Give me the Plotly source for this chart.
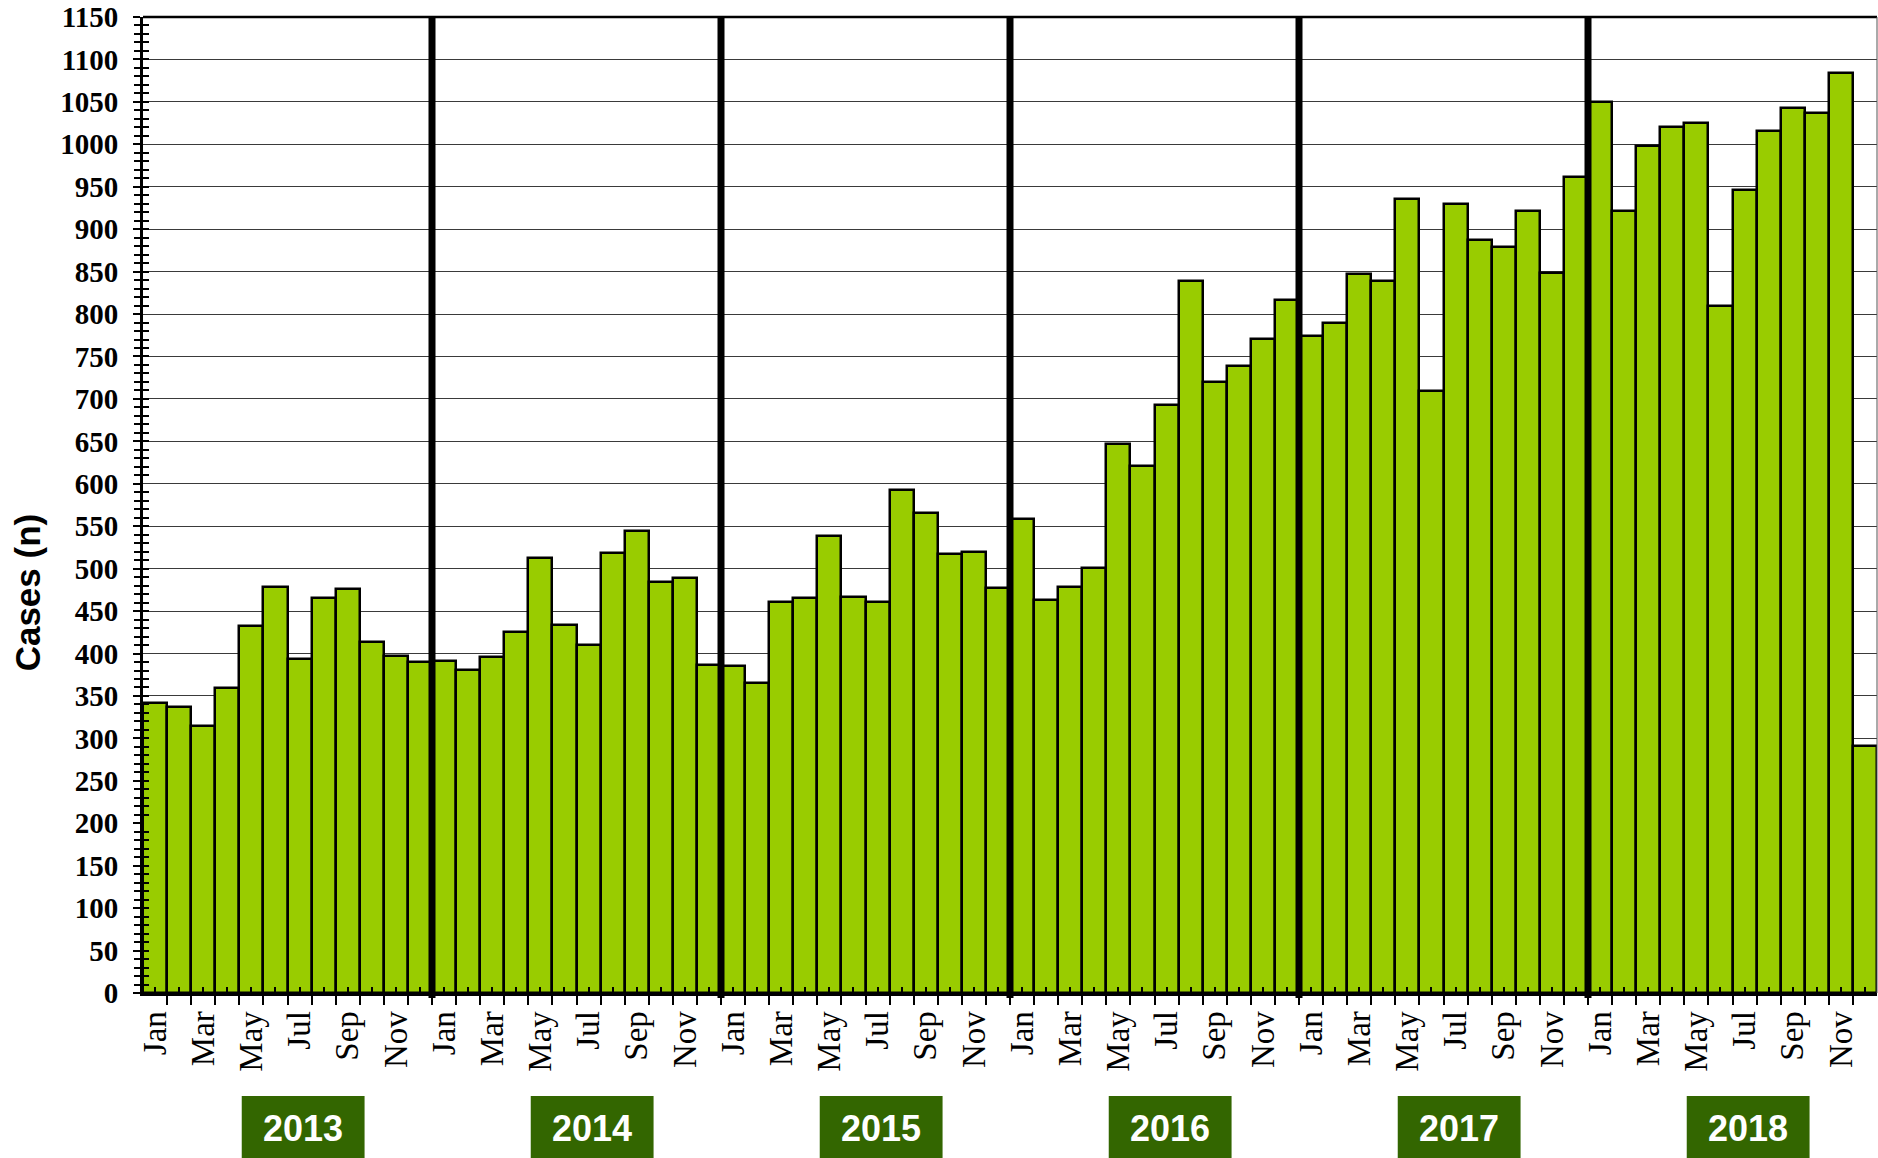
import plotly.graph_objects as go

# ---------------- data ----------------
month_names = ["Jan", "Feb", "Mar", "Apr", "May", "Jun",
               "Jul", "Aug", "Sep", "Oct", "Nov", "Dec"]
year_labels = ["2013", "2014", "2015", "2016", "2017", "2018"]

cases_2013 = [342, 337, 315, 359, 433, 478, 393, 466, 476, 413, 397, 390]
cases_2014 = [391, 381, 396, 425, 512, 434, 410, 518, 544, 484, 489, 386]
cases_2015 = [385, 365, 461, 465, 538, 467, 461, 593, 565, 517, 520, 477]
cases_2016 = [559, 463, 478, 501, 647, 621, 693, 839, 720, 739, 771, 816]
cases_2017 = [774, 789, 847, 839, 935, 709, 930, 887, 879, 921, 848, 962]
cases_2018 = [1050, 921, 998, 1020, 1025, 810, 946, 1016, 1043, 1037, 1084, 291]

y_ticks = list(range(0, 1151, 50))

# ---------------- build ----------------
all_cases = cases_2013 + cases_2014 + cases_2015 + cases_2016 + cases_2017 + cases_2018
n = len(all_cases)
xs = list(range(n))
tick_text = [(month_names[i % 12] if i % 2 == 0 else "") for i in xs]

GREEN = "#99CC00"
DARK = "#336600"
SERIF = "Liberation Serif, Times New Roman, serif"
SANS = "Liberation Sans, Arial, sans-serif"

fig = go.Figure()
fig.add_trace(go.Bar(
    x=xs, y=all_cases,
    marker=dict(color=GREEN, line=dict(color="black", width=2.5)),
    width=1.0, hoverinfo="x+y",
))
# invisible helper trace for the overlay axis (inside minor ticks)
fig.add_trace(go.Scatter(x=[0], y=[0], yaxis="y2", mode="markers",
                         marker=dict(opacity=0), showlegend=False, hoverinfo="skip"))

def px(d):
    """data x (bar index) -> paper x"""
    return (d + 0.5) / n

shapes = []
# top border and thin right border
shapes.append(dict(type="line", xref="paper", yref="paper", x0=0, x1=1, y0=1, y1=1,
                   line=dict(color="black", width=2.5), layer="above"))
shapes.append(dict(type="line", xref="paper", yref="paper", x0=1, x1=1, y0=0, y1=1,
                   line=dict(color="#555555", width=1), layer="above"))
# year separators
for k in range(1, len(year_labels)):
    xb = px(12 * k - 0.5)
    shapes.append(dict(type="line", xref="paper", yref="paper", x0=xb, x1=xb,
                       y0=-0.005, y1=1.0, line=dict(color="black", width=7), layer="above"))
# year boxes
annotations = []
for k, yl in enumerate(year_labels):
    x0 = px(12 * k + 3.6)
    x1 = px(12 * k + 8.7)
    shapes.append(dict(type="rect", xref="paper", yref="paper", x0=x0, x1=x1,
                       y0=-0.175, y1=-0.1055, fillcolor=DARK, line=dict(width=0),
                       layer="above"))
    annotations.append(dict(xref="paper", yref="paper", x=(x0 + x1) / 2, y=-0.139,
                            text=yl, showarrow=False, xanchor="center", yanchor="middle",
                            font=dict(family=SANS, size=36, color="white", weight="bold")))

annotations.append(dict(xref="paper", yref="paper", x=-0.0666, y=0.41,
                        text="Cases (n)", textangle=-90, showarrow=False,
                        xanchor="center", yanchor="middle",
                        font=dict(family=SANS, size=35, color="black", weight="bold")))

fig.update_layout(
    width=1878, height=1158,
    margin=dict(l=143, r=1, t=17, b=165),
    paper_bgcolor="white", plot_bgcolor="white",
    showlegend=False, bargap=0,
    shapes=shapes, annotations=annotations,
    xaxis=dict(
        range=[-0.5, n - 0.5], tickmode="array", tickvals=xs, ticktext=tick_text,
        tickangle=-90, ticks="inside", ticklen=6, tickwidth=1.5, tickcolor="black",
        tickfont=dict(family=SERIF, size=33, color="black"),
        ticklabelstandoff=2,
        showgrid=False, zeroline=False,
        showline=True, linecolor="black", linewidth=3,
        minor=dict(tick0=-0.5, dtick=1, ticks="outside", ticklen=9,
                   tickwidth=1.5, tickcolor="black", showgrid=False),
    ),
    yaxis=dict(
        range=[0, 1150], tickmode="array", tickvals=y_ticks,
        ticks="outside", ticklen=7, tickwidth=2, tickcolor="black",
        tickfont=dict(family=SERIF, size=29, color="black", weight="bold"),
        ticklabelstandoff=9,
        showgrid=True, gridcolor="#3a3a3a", gridwidth=1,
        zeroline=False, showline=True, linecolor="black", linewidth=3,
        minor=dict(dtick=10, tick0=0, ticks="outside", ticklen=6, tickwidth=1.5,
                   tickcolor="black", showgrid=False),
    ),
    yaxis2=dict(
        overlaying="y", side="left", range=[0, 1150], showticklabels=False,
        showgrid=False, zeroline=False, showline=False, ticks="",
        minor=dict(dtick=10, tick0=0, ticks="inside", ticklen=6, tickwidth=1.5,
                   tickcolor="black", showgrid=False),
    ),
)

fig.write_html("out.html", config={"displayModeBar": False},
               post_script="document.body.style.margin='0';document.body.style.overflow='hidden';")
